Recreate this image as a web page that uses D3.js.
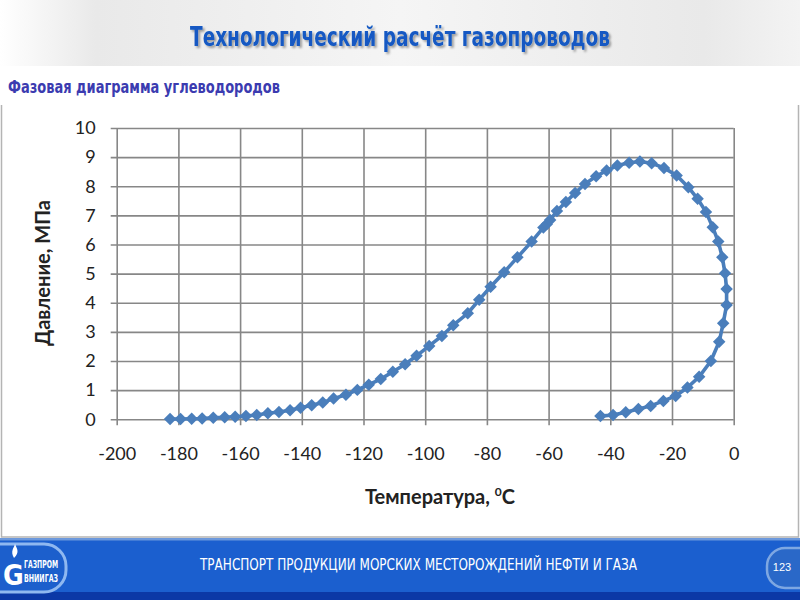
<!DOCTYPE html>
<html lang="ru">
<head>
<meta charset="utf-8">
<title>Фазовая диаграмма углеводородов</title>
<script src="https://d3js.org/d3.v7.min.js"></script>
<style>
  body { margin: 0; background: #fff; }
  svg { display: block; }
</style>
</head>
<body>
<svg id="slide" width="800" height="600"></svg>
<script>
// data: temperature (°C) and pressure (MPa)
const temperature = [-182.7, -179.3, -175.7, -172.3, -168.7, -165.0, -161.6, -158.1, -154.6, -151.0,
  -147.4, -143.8, -140.4, -136.8, -133.2, -129.7, -125.7, -122.0, -118.3, -114.4,
  -110.5, -106.5, -102.8, -98.7, -94.6, -90.9, -86.2, -82.5, -78.8, -74.4,
  -70.1, -65.5, -61.7, -60.6, -59.5, -57.3, -54.4, -51.4, -48.2, -44.6,
  -41.2, -37.7, -33.9, -30.4, -26.6, -22.6, -18.5, -14.7, -11.7, -9.0,
  -6.8, -5.0, -3.7, -2.8, -2.3, -2.3, -3.4, -4.7, -7.4, -11.2,
  -15.0, -18.8, -22.8, -26.9, -30.9, -35.0, -39.1, -43.2];
const pressure = [0.01, 0.01, 0.02, 0.03, 0.05, 0.07, 0.09, 0.11, 0.15, 0.21,
  0.25, 0.31, 0.40, 0.48, 0.58, 0.71, 0.84, 1.01, 1.19, 1.38,
  1.63, 1.89, 2.18, 2.52, 2.86, 3.23, 3.64, 4.10, 4.55, 5.05,
  5.56, 6.10, 6.58, 6.70, 6.84, 7.15, 7.46, 7.77, 8.08, 8.34,
  8.54, 8.71, 8.81, 8.85, 8.79, 8.63, 8.37, 7.97, 7.57, 7.12,
  6.59, 6.10, 5.56, 5.01, 4.47, 3.92, 3.30, 2.66, 2.00, 1.46,
  1.09, 0.80, 0.63, 0.46, 0.35, 0.24, 0.15, 0.11];
const xTicks = [-200, -180, -160, -140, -120, -100, -80, -60, -40, -20, 0];
const yTicks = [0, 1, 2, 3, 4, 5, 6, 7, 8, 9, 10];

const titleText = "Технологический расчёт газопроводов";
const subtitleText = "Фазовая диаграмма углеводородов";
const footerText = "ТРАНСПОРТ  ПРОДУКЦИИ МОРСКИХ МЕСТОРОЖДЕНИЙ  НЕФТИ И ГАЗА";
const pageNumber = "123";

const svg = d3.select("#slide");
const defs = svg.append("defs");

// ---- slide background ----
let hg = defs.append("linearGradient").attr("id", "headGrad");
hg.append("stop").attr("offset", "0%").attr("stop-color", "#ffffff");
hg.append("stop").attr("offset", "12%").attr("stop-color", "#e9e9e9");
hg.append("stop").attr("offset", "50%").attr("stop-color", "#f5f5f5");
hg.append("stop").attr("offset", "88%").attr("stop-color", "#e9e9e9");
hg.append("stop").attr("offset", "100%").attr("stop-color", "#f3f3f3");

svg.append("rect").attr("x", 0).attr("y", 0).attr("width", 800).attr("height", 66)
  .attr("fill", "url(#headGrad)");

let sh = defs.append("filter").attr("id", "shadow").attr("x", "-5%").attr("y", "-20%")
  .attr("width", "110%").attr("height", "150%");
sh.append("feDropShadow").attr("dx", 2).attr("dy", 2).attr("stdDeviation", 1.2)
  .attr("flood-color", "#000").attr("flood-opacity", 0.35);

svg.append("text")
  .attr("x", 190).attr("y", 46)
  .attr("textLength", 420).attr("lengthAdjust", "spacingAndGlyphs")
  .attr("font-family", "DejaVu Sans Condensed, DejaVu Sans")
  .attr("font-weight", "bold").attr("font-size", 27)
  .attr("fill", "#1259c3").attr("filter", "url(#shadow)")
  .text(titleText);

svg.append("text")
  .attr("x", 8).attr("y", 93)
  .attr("textLength", 272).attr("lengthAdjust", "spacingAndGlyphs")
  .attr("font-family", "DejaVu Sans Condensed, DejaVu Sans")
  .attr("font-weight", "bold").attr("font-size", 17)
  .attr("fill", "#3b3bb0")
  .text(subtitleText);

// content frame
svg.append("path").attr("d", "M1.5,105 V537 H798.5 V105")
  .attr("fill", "none").attr("stroke", "#b4b4b4").attr("stroke-width", 1.5);

// ---- chart ----
const x = d3.scaleLinear().domain([-200, 0]).range([116.7, 733.7]);
const y = d3.scaleLinear().domain([0, 10]).range([419.3, 128]);
const gridColor = "#878787";
const labelFont = "Lato, 'Open Sans', sans-serif";

const xAxis = d3.axisBottom(x).tickValues(xTicks)
  .tickSize(-(y(0) - y(10) + 6)).tickPadding(22)
  .tickFormat(d => String(d));
svg.append("g")
  .attr("transform", "translate(0," + (y(0) + 6) + ")")
  .call(xAxis)
  .call(g => g.select(".domain").remove())
  .call(g => g.selectAll("line").attr("stroke", gridColor).attr("stroke-width", 1.6))
  .call(g => g.selectAll("text").attr("font-family", labelFont).attr("font-size", 18).attr("fill", "#222"));

const yAxis = d3.axisLeft(y).tickValues(yTicks)
  .tickSize(-(x(0) - x(-200) + 6)).tickPadding(15);
svg.append("g")
  .attr("transform", "translate(" + (x(-200) - 6) + ",0)")
  .call(yAxis)
  .call(g => g.select(".domain").remove())
  .call(g => g.selectAll("line").attr("stroke", gridColor).attr("stroke-width", 1.6))
  .call(g => g.selectAll("text").attr("font-family", labelFont).attr("font-size", 18).attr("fill", "#222"));

const points = temperature.map((t, i) => ({ t: t, p: pressure[i] }));

let line = d3.line().x(d => x(d.t)).y(d => y(d.p));
svg.append("path").datum(points)
  .attr("d", line)
  .attr("fill", "none").attr("stroke", "#4a7ebb").attr("stroke-width", 3.6);

let marker = d3.symbol().type(d3.symbolSquare).size(78);
svg.selectAll(".pt").data(points).enter().append("path")
  .attr("class", "pt")
  .attr("d", marker)
  .attr("transform", d => "translate(" + x(d.t) + "," + y(d.p) + ") rotate(45)")
  .attr("fill", "#4a7ebb");

// axis titles
svg.append("text")
  .attr("transform", "translate(50,273) rotate(-90)")
  .attr("text-anchor", "middle")
  .attr("font-family", labelFont).attr("font-weight", "bold").attr("font-size", 20)
  .attr("fill", "#222")
  .text("Давление, МПа");

let xt = svg.append("text")
  .attr("x", 440).attr("y", 504)
  .attr("text-anchor", "middle")
  .attr("font-family", labelFont).attr("font-weight", "bold").attr("font-size", 20)
  .attr("fill", "#222");
xt.append("tspan").text("Температура, ");
xt.append("tspan").attr("font-size", 12).attr("dy", -8).text("0");
xt.append("tspan").attr("dy", 8).text("С");

// ---- footer ----
svg.append("rect").attr("x", 0).attr("y", 539).attr("width", 800).attr("height", 61).attr("fill", "#1b5fcf");
svg.append("rect").attr("x", 0).attr("y", 538).attr("width", 800).attr("height", 2.5).attr("fill", "#6b98dc");
svg.append("rect").attr("x", 0).attr("y", 592).attr("width", 800).attr("height", 8).attr("fill", "#0b38a6");

// logo pill
svg.append("rect").attr("x", -30).attr("y", 544).attr("width", 96).attr("height", 48).attr("rx", 22)
  .attr("fill", "#1c5fcc").attr("stroke", "#8fb8f0").attr("stroke-width", 3);
svg.append("text").attr("x", 3).attr("y", 585)
  .attr("font-family", "DejaVu Sans Condensed, DejaVu Sans").attr("font-weight", "bold")
  .attr("font-size", 28).attr("fill", "#fff").text("G");
svg.append("path").attr("d", "M14,558 C10,551 14,548 15,544 C17,549 20,552 14,558 Z")
  .attr("fill", "#fff");
svg.append("text").attr("x", 24).attr("y", 568)
  .attr("textLength", 34).attr("lengthAdjust", "spacingAndGlyphs")
  .attr("font-family", "DejaVu Sans Condensed, DejaVu Sans").attr("font-weight", "bold")
  .attr("font-size", 11).attr("fill", "#fff").text("ГАЗПРОМ");
svg.append("text").attr("x", 24).attr("y", 582)
  .attr("textLength", 34).attr("lengthAdjust", "spacingAndGlyphs")
  .attr("font-family", "DejaVu Sans Condensed, DejaVu Sans").attr("font-weight", "bold")
  .attr("font-size", 11).attr("fill", "#fff").text("ВНИИГАЗ");

svg.append("text")
  .attr("x", 200).attr("y", 570)
  .attr("textLength", 437).attr("lengthAdjust", "spacingAndGlyphs")
  .attr("font-family", "DejaVu Sans Condensed, DejaVu Sans")
  .attr("font-size", 15).attr("fill", "#fff")
  .text(footerText);

// page number badge
svg.append("rect").attr("x", 767).attr("y", 548).attr("width", 60).attr("height", 40).attr("rx", 18)
  .attr("fill", "#2a68c8").attr("stroke", "#7ea7e2").attr("stroke-width", 2.5);
svg.append("text").attr("x", 782).attr("y", 571).attr("text-anchor", "middle")
  .attr("font-family", "Liberation Sans, Arial").attr("font-size", 11).attr("fill", "#fff")
  .text(pageNumber);
</script>
</body>
</html>
